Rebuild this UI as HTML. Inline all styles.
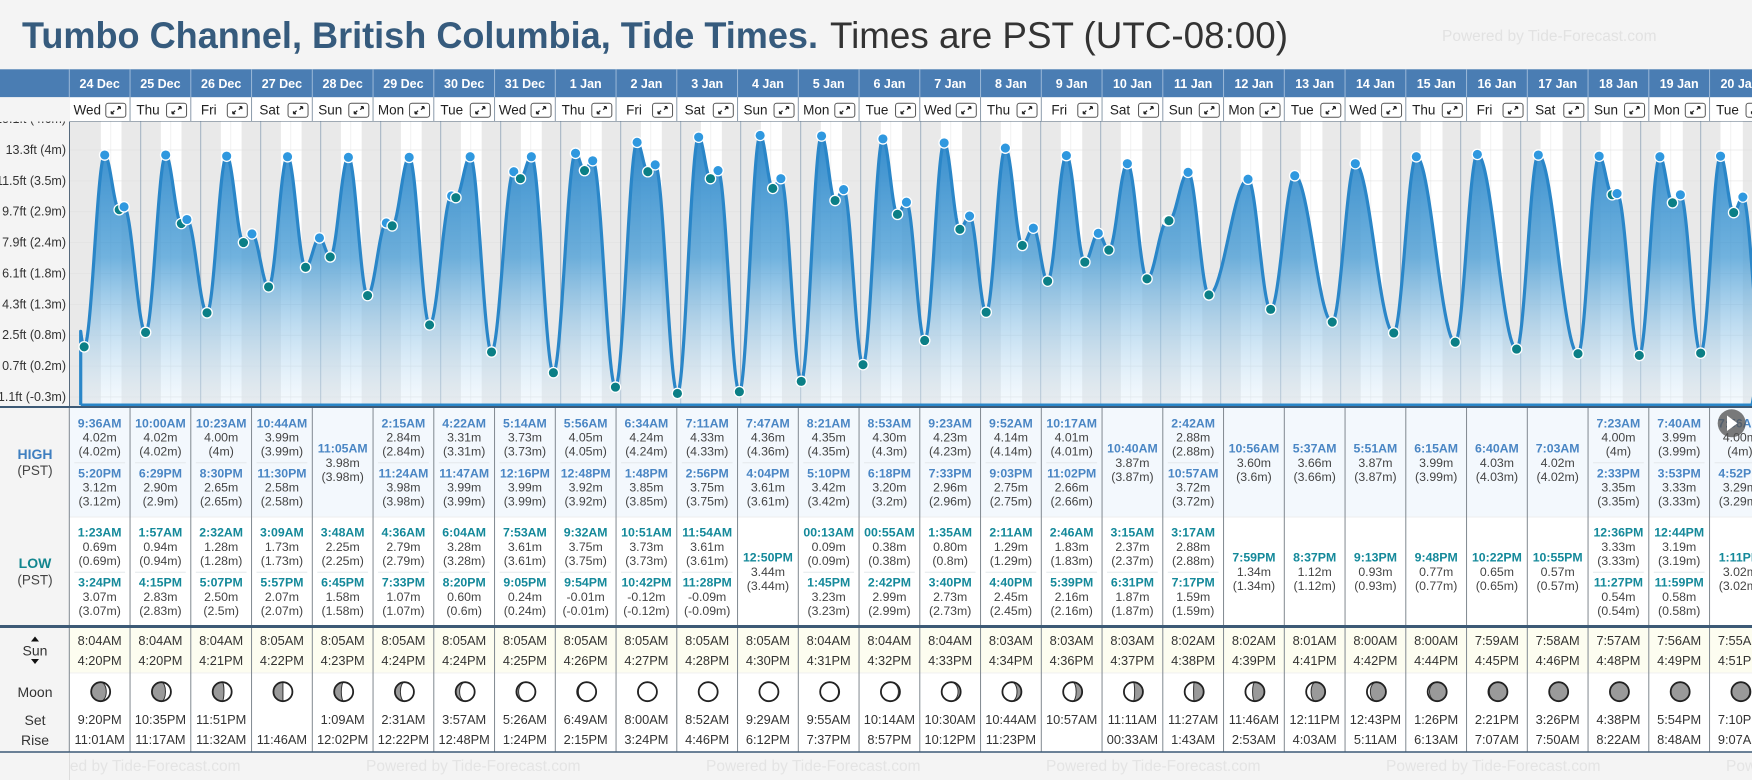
<!DOCTYPE html>
<html><head><meta charset="utf-8">
<style>
html,body{margin:0;padding:0;background:#f4f4f4;}
body{width:1752px;height:780px;overflow:hidden;font-family:"Liberation Sans",Arial,sans-serif;}
svg{display:block;}
</style></head>
<body>
<svg id="root" width="1752" height="780" xmlns="http://www.w3.org/2000/svg" font-family="Liberation Sans, Arial, sans-serif">
<defs>
<linearGradient id="areaGrad" x1="0" y1="0" x2="0" y2="1">
<stop offset="0" stop-color="#2e88ca" stop-opacity="0.97"/>
<stop offset="0.45" stop-color="#4d9fd6" stop-opacity="0.8"/>
<stop offset="1" stop-color="#e4f1fb" stop-opacity="0.35"/>
</linearGradient>
<clipPath id="chartClip"><rect x="70" y="121.5" width="1682" height="285"/></clipPath>
</defs>
<rect x="0" y="0" width="1752" height="780" fill="#f4f4f4"/>
<text x="22" y="48" font-size="37" font-weight="bold" fill="#365b7d" textLength="796" lengthAdjust="spacingAndGlyphs">Tumbo Channel, British Columbia, Tide Times.</text>
<text x="830" y="48" font-size="37" fill="#333" textLength="458" lengthAdjust="spacingAndGlyphs">Times are PST (UTC-08:00)</text>
<text x="1442" y="41" font-size="15.5" fill="#e2e2e2">Powered by Tide-Forecast.com</text>
<g id="g-main"></g>
</svg>
<script>
// ---- data ----
const dates = ["24 Dec","25 Dec","26 Dec","27 Dec","28 Dec","29 Dec","30 Dec","31 Dec","1 Jan","2 Jan","3 Jan","4 Jan","5 Jan","6 Jan","7 Jan","8 Jan","9 Jan","10 Jan","11 Jan","12 Jan","13 Jan","14 Jan","15 Jan","16 Jan","17 Jan","18 Jan","19 Jan","20 Jan"];
const weekdays = ["Wed","Thu","Fri","Sat","Sun","Mon","Tue","Wed","Thu","Fri","Sat","Sun","Mon","Tue","Wed","Thu","Fri","Sat","Sun","Mon","Tue","Wed","Thu","Fri","Sat","Sun","Mon","Tue"];
const highTimes = [["9:36AM","5:20PM"],["10:00AM","6:29PM"],["10:23AM","8:30PM"],["10:44AM","11:30PM"],["11:05AM"],["2:15AM","11:24AM"],["4:22AM","11:47AM"],["5:14AM","12:16PM"],["5:56AM","12:48PM"],["6:34AM","1:48PM"],["7:11AM","2:56PM"],["7:47AM","4:04PM"],["8:21AM","5:10PM"],["8:53AM","6:18PM"],["9:23AM","7:33PM"],["9:52AM","9:03PM"],["10:17AM","11:02PM"],["10:40AM"],["2:42AM","10:57AM"],["10:56AM"],["5:37AM"],["5:51AM"],["6:15AM"],["6:40AM"],["7:03AM"],["7:23AM","2:33PM"],["7:40AM","3:53PM"],["7:56AM","4:52PM"]];
const highVals = [[4.02,3.12],[4.02,2.90],[4.00,2.65],[3.99,2.58],[3.98],[2.84,3.98],[3.31,3.99],[3.73,3.99],[4.05,3.92],[4.24,3.85],[4.33,3.75],[4.36,3.61],[4.35,3.42],[4.30,3.20],[4.23,2.96],[4.14,2.75],[4.01,2.66],[3.87],[2.88,3.72],[3.60],[3.66],[3.87],[3.99],[4.03],[4.02],[4.00,3.35],[3.99,3.33],[4.00,3.29]];
const highLabels = [["4.02m","(4.02m)","3.12m","(3.12m)"]];
const lowTimes = [["1:23AM","3:24PM"],["1:57AM","4:15PM"],["2:32AM","5:07PM"],["3:09AM","5:57PM"],["3:48AM","6:45PM"],["4:36AM","7:33PM"],["6:04AM","8:20PM"],["7:53AM","9:05PM"],["9:32AM","9:54PM"],["10:51AM","10:42PM"],["11:54AM","11:28PM"],["12:50PM"],["00:13AM","1:45PM"],["00:55AM","2:42PM"],["1:35AM","3:40PM"],["2:11AM","4:40PM"],["2:46AM","5:39PM"],["3:15AM","6:31PM"],["3:17AM","7:17PM"],["7:59PM"],["8:37PM"],["9:13PM"],["9:48PM"],["10:22PM"],["10:55PM"],["12:36PM","11:27PM"],["12:44PM","11:59PM"],["1:11PM"]];
const lowVals = [[0.69,3.07],[0.94,2.83],[1.28,2.50],[1.73,2.07],[2.25,1.58],[2.79,1.07],[3.28,0.60],[3.61,0.24],[3.75,-0.01],[3.73,-0.12],[3.61,-0.09],[3.44],[0.09,3.23],[0.38,2.99],[0.80,2.73],[1.29,2.45],[1.83,2.16],[2.37,1.87],[2.88,1.59],[1.34],[1.12],[0.93],[0.77],[0.65],[0.57],[3.33,0.54],[3.19,0.58],[3.02]];
const sunrise = ["8:04AM","8:04AM","8:04AM","8:05AM","8:05AM","8:05AM","8:05AM","8:05AM","8:05AM","8:05AM","8:05AM","8:05AM","8:04AM","8:04AM","8:04AM","8:03AM","8:03AM","8:03AM","8:02AM","8:02AM","8:01AM","8:00AM","8:00AM","7:59AM","7:58AM","7:57AM","7:56AM","7:55AM"];
const sunset = ["4:20PM","4:20PM","4:21PM","4:22PM","4:23PM","4:24PM","4:24PM","4:25PM","4:26PM","4:27PM","4:28PM","4:30PM","4:31PM","4:32PM","4:33PM","4:34PM","4:36PM","4:37PM","4:38PM","4:39PM","4:41PM","4:42PM","4:44PM","4:45PM","4:46PM","4:48PM","4:49PM","4:51PM"];
const moonSet = ["9:20PM","10:35PM","11:51PM","","1:09AM","2:31AM","3:57AM","5:26AM","6:49AM","8:00AM","8:52AM","9:29AM","9:55AM","10:14AM","10:30AM","10:44AM","10:57AM","11:11AM","11:27AM","11:46AM","12:11PM","12:43PM","1:26PM","2:21PM","3:26PM","4:38PM","5:54PM","7:10PM"];
const moonRise = ["11:01AM","11:17AM","11:32AM","11:46AM","12:02PM","12:22PM","12:48PM","1:24PM","2:15PM","3:24PM","4:46PM","6:12PM","7:37PM","8:57PM","10:12PM","11:23PM","","00:33AM","1:43AM","2:53AM","4:03AM","5:11AM","6:13AM","7:07AM","7:50AM","8:22AM","8:48AM","9:07AM"];
const moonPhase = [0.15,0.18,0.22,0.25,0.29,0.32,0.35,0.39,0.42,0.46,0.49,0.52,0.56,0.59,0.62,0.66,0.69,0.73,0.76,0.79,0.83,0.86,0.90,0.93,0.96,0.99,0.02,0.06];
const tickFt = ["15.1ft (4.6m)","13.3ft (4m)","11.5ft (3.5m)","9.7ft (2.9m)","7.9ft (2.4m)","6.1ft (1.8m)","4.3ft (1.3m)","2.5ft (0.8m)","0.7ft (0.2m)","-1.1ft (-0.3m)"];
const tickVals = [15.1,13.3,11.5,9.7,7.9,6.1,4.3,2.5,0.7,-1.1];
// boundary extremes just outside the visible window (estimated)
const edgeTimes = [-5, 27*24+24.5];
const edgeVals = [3.1, 0.6];

// ---- scales ----
const NS = "http://www.w3.org/2000/svg";
const DAYW = 60, X0 = 80.7;
const xT = h => X0 + h / 24 * DAYW;            // hours since 24 Dec 00:00
const yM = m => 155 + (4.02 - m) * 57.6;       // metres
const yTick = ft => 150 + (13.3 - ft) * 17.15;
const COLX = 69.3, COLW = 60.75;
const colX = i => COLX + i * COLW;
const colC = i => colX(i) + COLW / 2;
function parseT(s){ const m = s.match(/(\d+):(\d+)(AM|PM)/); let h = +m[1] % 12; if (m[3]==="PM") h += 12; return h + (+m[2]) / 60; }

const main = document.getElementById('g-main');
function el(tag, attrs, parent, txt){ const e = document.createElementNS(NS, tag); for (const k in attrs) e.setAttribute(k, attrs[k]); if (txt !== undefined) e.textContent = txt; (parent||main).appendChild(e); return e; }
function txt(x, y, s, size, fill, weight, anchor, parent){ return el('text', {x:x, y:y, 'font-size':size, fill:fill, 'font-weight':weight||'normal', 'text-anchor':anchor||'middle', 'dominant-baseline':'central'}, parent, s); }

const N = dates.length;
// ---- header rows ----
const hdr = el('g', {});  
el('rect', {x:0, y:69.3, width:1752, height:28, fill:'#4a7db3'}, hdr);
el('rect', {x:0, y:97.3, width:69.3, height:24.2, fill:'#f4f4f4'}, hdr);
el('rect', {x:69.3, y:97.3, width:1683, height:24.2, fill:'#ffffff'}, hdr);
for (let i = 0; i < N; i++){
  const x = colX(i);
  const d = txt(colC(i), 84, dates[i], 12.5, '#fff', 'bold', 'middle', hdr);
  
  
  el('line', {x1:x, y1:69.3, x2:x, y2:97.3, stroke:'#9ab8d8', 'stroke-width':1}, hdr);
  el('line', {x1:x, y1:97.3, x2:x, y2:121.5, stroke:'#8a9aaa', 'stroke-width':1}, hdr);
  const w = txt(x + 18, 110, weekdays[i], 13.5, '#222', 'normal', 'middle', hdr);
  
  
  const ic = el('g', {transform:'translate(' + (x + 36) + ',102.7)', cursor:'pointer'}, hdr);
  
  
  el('rect', {x:0.5, y:0.5, width:20, height:14, rx:2.5, fill:'#fff', stroke:'#555', 'stroke-width':1}, ic);
  el('path', {d:'M6 11 L9 8 M6 11 L6 8.6 M6 11 L8.4 11 M15 4 L12 7 M15 4 L12.6 4 M15 4 L15 6.4', stroke:'#222', 'stroke-width':1.3, fill:'none'}, ic);
}
el('line', {x1:0, y1:121.5, x2:1752, y2:121.5, stroke:'#55697d', 'stroke-width':1}, hdr);

// ---- chart ----
const chart = el('g', {});  
el('rect', {x:70, y:121.5, width:1682, height:285, fill:'#e9e9e9'}, chart);
const cc = el('g', {'clip-path':'url(#chartClip)'}, chart);
for (let i = 0; i < N; i++){
  const a = xT(i*24 + parseT(sunrise[i])), b = xT(i*24 + parseT(sunset[i]));
  const r = el('rect', {x:a, y:121.5, width:b-a, height:285, fill:'#ffffff'}, cc);
  
  
  el('line', {x1:xT(i*24+12), y1:121.5, x2:xT(i*24+12), y2:406, stroke:'#f1f1f1', 'stroke-width':1}, cc);
}
tickVals.forEach(v => { el('line', {x1:70, y1:yTick(v), x2:1752, y2:yTick(v), stroke:'#dedede', 'stroke-width':0.8, 'stroke-opacity':0.7}, cc); });
for (let i = 1; i < N+1; i++){ el('line', {x1:xT(i*24), y1:121.5, x2:xT(i*24), y2:406, stroke:'#9fb0c0', 'stroke-width':1}, cc); }

// extremes
const ext = [];
ext.push({t:edgeTimes[0], v:edgeVals[0], k:'e'});
for (let i = 0; i < N; i++){
  highTimes[i].forEach((s,j) => ext.push({t:i*24+parseT(s), v:highVals[i][j], k:'h'}));
  lowTimes[i].forEach((s,j) => ext.push({t:i*24+parseT(s), v:lowVals[i][j], k:'l'}));
}
ext.push({t:edgeTimes[1], v:edgeVals[1], k:'e'});
ext.sort((a,b) => a.t - b.t);
const pts = [];
for (let k = 0; k < ext.length-1; k++){
  const A = ext[k], B = ext[k+1];
  for (let t = Math.max(A.t, 0); t < B.t; t += 0.2){
    const f = (t - A.t) / (B.t - A.t);
    pts.push([xT(t), yM(A.v + (B.v - A.v) * (1 - Math.cos(Math.PI * f)) / 2)]);
  }
}
const line = pts.map((p,i) => (i?'L':'M') + p[0].toFixed(1) + ' ' + p[1].toFixed(1)).join(' ');
const area = el('path', {d: line + ' L' + pts[pts.length-1][0].toFixed(1) + ' 406 L' + pts[0][0].toFixed(1) + ' 406 Z', fill:'url(#areaGrad)'}, cc);


const ln = el('path', {d: 'M' + pts[0][0].toFixed(1) + ' 405 ' + line.replace(/^M/,'L') + ' L1752 405', fill:'none', stroke:'#2a86c8', 'stroke-width':3.2, 'stroke-linejoin':'round'}, cc);


el('line', {x1:pts[0][0], y1:405, x2:1752, y2:405, stroke:'#2a86c8', 'stroke-width':3}, cc);
ext.forEach(e => {
  if (e.k === 'e') return;
  const c = el('circle', {cx:xT(e.t), cy:yM(e.v), r:5.2, fill: e.k==='h' ? '#2f98df' : '#0b7f86', stroke:'#fff', 'stroke-width':1.3}, cc);
  
  
});
el('rect', {x:0, y:121.5, width:70, height:285, fill:'#f4f4f4'}, chart);
tickFt.forEach((s,i) => {
  const t = txt(66, yTick(tickVals[i]), s, 12.5, '#333', 'normal', 'end', chart);
  
  
});
el('rect', {x:0, y:97.3, width:70, height:24.2, fill:'#f4f4f4'}, chart);
el('line', {x1:69.5, y1:121.5, x2:69.5, y2:407, stroke:'#55697d', 'stroke-width':1}, chart);
el('line', {x1:0, y1:407, x2:1752, y2:407, stroke:'#3d5a76', 'stroke-width':2}, chart);

// ---- table ----
const tb = el('g', {});  
el('rect', {x:0, y:408, width:69.3, height:344, fill:'#f4f4f4'}, tb);
el('rect', {x:69.3, y:408, width:1683, height:109, fill:'#f3f8fd'}, tb);
el('rect', {x:69.3, y:517, width:1683, height:109, fill:'#ffffff'}, tb);
el('rect', {x:69.3, y:627, width:1683, height:46, fill:'#fdfdf0'}, tb);
el('rect', {x:69.3, y:673, width:1683, height:79, fill:'#ffffff'}, tb);
el('line', {x1:69.3, y1:517, x2:1752, y2:517, stroke:'#eeeeee', 'stroke-width':1}, tb);
el('line', {x1:69.3, y1:673, x2:1752, y2:673, stroke:'#f0f0f0', 'stroke-width':1}, tb);

function lbl(x,y,s,size,fill,weight,name){ const t = txt(x,y,s,size,fill,weight,'middle',tb);   return t; }
lbl(35,454,'HIGH',14,'#3f7fc0','bold','high-row-label');
lbl(35,470.5,'(PST)',13.5,'#444','normal','high-pst-label');
lbl(35,563,'LOW',14,'#13868f','bold','low-row-label');
lbl(35,580,'(PST)',13.5,'#444','normal','low-pst-label');
el('path', {d:'M31 641.5 L35 636.5 L39 641.5 Z', fill:'#111'}, tb);
lbl(35,650.5,'Sun',14,'#333','normal','sun-row-label');
el('path', {d:'M31 659 L35 664 L39 659 Z', fill:'#111'}, tb);
lbl(35,692,'Moon',14,'#333','normal','moon-row-label');
lbl(35,720,'Set',14,'#333','normal','moonset-row-label');
lbl(35,740,'Rise',14,'#333','normal','moonrise-row-label');

function entries(times, vals, i, ys2, ys1, color, name){
  const n = times[i].length;
  times[i].forEach((s,j) => {
    const ys = n === 2 ? ys2[j] : ys1;
    const v = vals[i][j];
    const a = txt(colC(i), ys, s, 12.3, color, 'bold', 'middle', tb);
    
    
    const b = txt(colC(i), ys+14.2, v.toFixed(2) + 'm', 12.3, '#444', 'normal', 'middle', tb);
    
    
    const c = txt(colC(i), ys+28.2, '(' + (+v.toFixed(2)) + 'm)', 12.3, '#444', 'normal', 'middle', tb);
    
    
  });
  if (n === 2) el('line', {x1:colX(i)+5, y1:ys2[0]+39.5, x2:colX(i)+COLW-5, y2:ys2[0]+39.5, stroke:'#e4e8ec', 'stroke-width':1}, tb);
}
function moonPath(cx, cy, r, p){
  const rx = r * Math.abs(Math.cos(2*Math.PI*p));
  if (p < 0.5){
    const sw = p < 0.25 ? 0 : 1;
    return `M${cx} ${cy-r} A${r} ${r} 0 0 0 ${cx} ${cy+r} A${rx} ${r} 0 0 ${sw} ${cx} ${cy-r} Z`;
  } else {
    const sw = p > 0.75 ? 1 : 0;
    return `M${cx} ${cy-r} A${r} ${r} 0 0 1 ${cx} ${cy+r} A${rx} ${r} 0 0 ${sw} ${cx} ${cy-r} Z`;
  }
}
for (let i = 0; i < N; i++){
  entries(highTimes, highVals, i, [423.3,473.3], 448.7, '#4a86c4', 'high-tide');
  entries(lowTimes, lowVals, i, [532.7,582.7], 557.7, '#14899a', 'low-tide');
  const sr = txt(colC(i), 640.7, sunrise[i], 12.8, '#333', 'normal', 'middle', tb);
  
  
  const ss = txt(colC(i), 660.3, sunset[i], 12.8, '#333', 'normal', 'middle', tb);
  
  
  const mg = el('g', {}, tb);
  
  
  const cx = colC(i)+1, cy = 691.7, r = 9.5;
  el('circle', {cx:cx, cy:cy, r:r, fill:'#fff'}, mg);
  el('path', {d:moonPath(cx,cy,r,moonPhase[i]), fill:'#9a9a9a', stroke:'#333', 'stroke-width':1}, mg);
  el('circle', {cx:cx, cy:cy, r:r, fill:'none', stroke:'#222', 'stroke-width':1.8}, mg);
  const ms = txt(colC(i), 719.7, moonSet[i], 12.8, '#333', 'normal', 'middle', tb);
  
  
  const mr = txt(colC(i), 739.7, moonRise[i], 12.8, '#333', 'normal', 'middle', tb);
  
  
  el('line', {x1:colX(i), y1:408, x2:colX(i), y2:752, stroke:'#808890', 'stroke-width':1}, tb);
}
el('line', {x1:0, y1:626.5, x2:1752, y2:626.5, stroke:'#3d5a76', 'stroke-width':3}, tb);
el('line', {x1:0, y1:752, x2:1752, y2:752, stroke:'#3d5a76', 'stroke-width':1.5}, tb);

// footer watermarks
[26,366,706,1046,1386,1726].forEach(x => {
  const f = el('text', {x:x, y:771, 'font-size':15.5, fill:'#e4e4e4'}, tb, 'Powered by Tide-Forecast.com');
  
  
});
el('rect', {x:0, y:753, width:69.3, height:27, fill:'#f4f4f4'}, tb);
el('line', {x1:69.5, y1:753, x2:69.5, y2:780, stroke:'#dddddd', 'stroke-width':1}, tb);

// next button
const nb = el('g', {cursor:'pointer'});


el('circle', {cx:1731.7, cy:423.3, r:14, fill:'#555', 'fill-opacity':0.78}, nb);
el('path', {d:'M1727 415.5 L1737.5 423.3 L1727 431 Z', fill:'#fff'}, nb);
</script>
</body></html>
